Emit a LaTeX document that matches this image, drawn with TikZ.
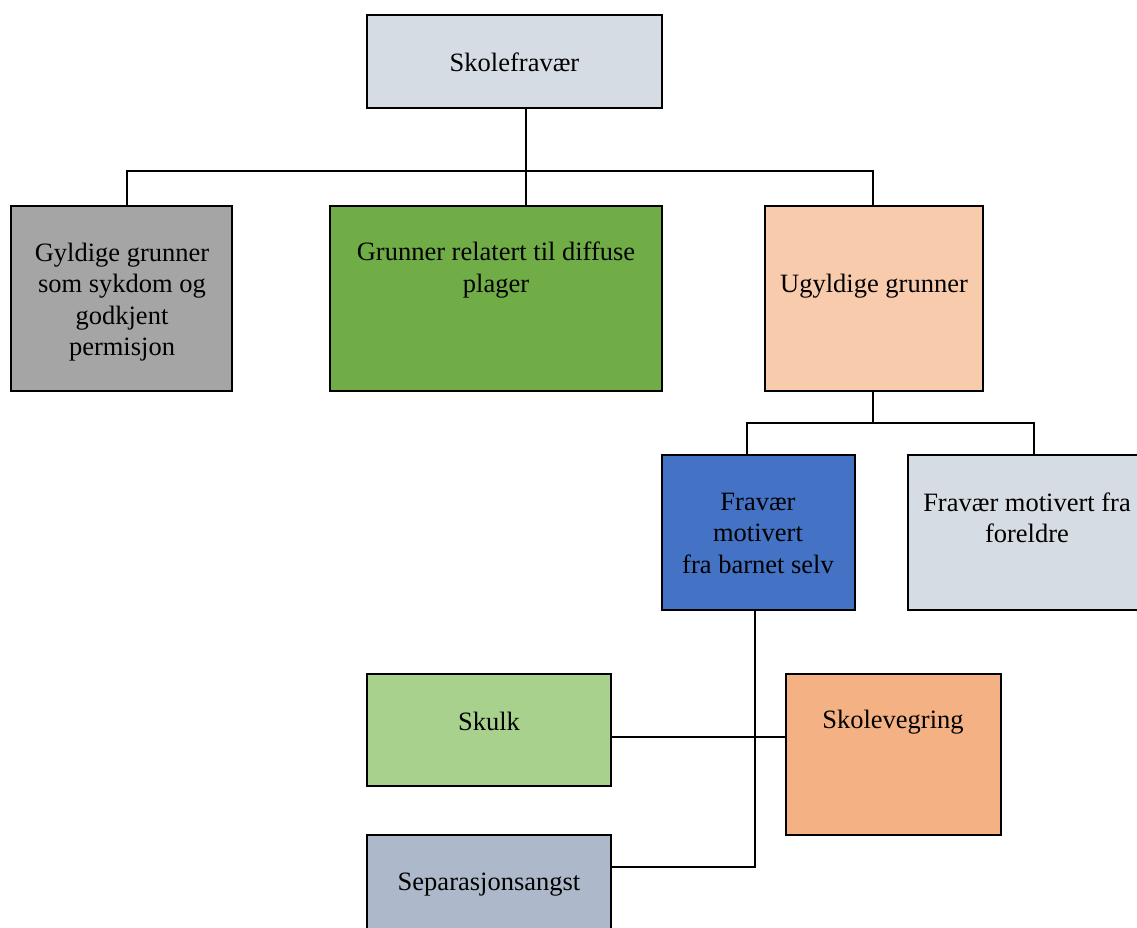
\documentclass[tikz,border=0pt]{standalone}
\usepackage{fontspec}
\setmainfont{Liberation Serif}
\definecolor{cRoot}{HTML}{D6DCE4}
\definecolor{cGray}{HTML}{A5A5A5}
\definecolor{cGreen}{HTML}{70AD47}
\definecolor{cPeach}{HTML}{F8CBAD}
\definecolor{cBlue}{HTML}{4472C4}
\definecolor{cLight}{HTML}{D6DCE4}
\definecolor{cLGreen}{HTML}{A9D18E}
\definecolor{cOrange}{HTML}{F4B183}
\definecolor{cSlate}{HTML}{ADB9CA}
\begin{document}
\begin{tikzpicture}[x=1pt,y=-1pt,
  box/.style={draw=black, line width=2pt, rectangle, inner sep=0pt},
  txt/.style={inner sep=0pt, align=center, font=\fontsize{26.5}{31.5}\selectfont},
  conn/.style={draw=black, line width=1.8pt}]
\useasboundingbox (0,0) rectangle (1137,927);
% boxes
\node[box, fill=cRoot, minimum width=295pt, minimum height=92.5pt] (root) at (514.5,61.25) {};
\node[box, fill=cGray, minimum width=221pt, minimum height=185pt] (gy) at (121.5,298.5) {};
\node[box, fill=cGreen, minimum width=332pt, minimum height=185pt] (gr) at (496,298.5) {};
\node[box, fill=cPeach, minimum width=218pt, minimum height=185pt] (ug) at (874,298.5) {};
\node[box, fill=cBlue, minimum width=193pt, minimum height=155pt] (bl) at (758.5,532.5) {};
\node[box, fill=cLight, minimum width=242pt, minimum height=155pt] (fo) at (1029,532.5) {};
\node[box, fill=cLGreen, minimum width=244pt, minimum height=112pt] (sk) at (489,730) {};
\node[box, fill=cOrange, minimum width=215pt, minimum height=161pt] (sv) at (893.5,754.5) {};
\node[box, fill=cSlate, minimum width=244pt, minimum height=105pt] (sp) at (489,887.5) {};
% texts
\node[txt] (t1) at (514.5,62) {Skolefravær};
\node[txt] (t2) at (122,302) {Gyldige grunner\\som sykdom og\\godkjent\\permisjon};
\node[txt] (t3) at (496,270) {Grunner relatert til diffuse\\plager};
\node[txt] (t4) at (874,286) {Ugyldige grunner};
\node[txt] (t5) at (758,533) {Fravær\\motivert\\fra barnet selv};
\node[txt] (t6) at (1027,518) {Fravær motivert fra\\foreldre};
\node[txt] (t7) at (489,721) {Skulk};
\node[txt] (t8) at (893,722) {Skolevegring};
\node[txt] (t9) at (489,885) {Separasjonsangst};
% junction coordinates
\coordinate (a) at (526,171);
\coordinate (gyd) at (127,171);
\coordinate (ugd) at (873,171);
\coordinate (ugb) at (873,423);
\coordinate (bld) at (747,423);
\coordinate (fod) at (1034,423);
\coordinate (c) at (755,737);
\coordinate (d) at (755,867);
% connectors
\draw[conn] (root.south -| a) -- (gr.north -| a);
\draw[conn] (gy.north -| gyd) -- (gyd) -- (ugd) -- (ug.north -| ugd);
\draw[conn] (ug.south -| ugb) -- (ugb);
\draw[conn] (bl.north -| bld) -- (bld) -- (fod) -- (fo.north -| fod);
\draw[conn] (bl.south -| c) -- (d) -- (sp.east |- d);
\draw[conn] (sk.east |- c) -- (sv.west |- c);
\end{tikzpicture}
\end{document}
